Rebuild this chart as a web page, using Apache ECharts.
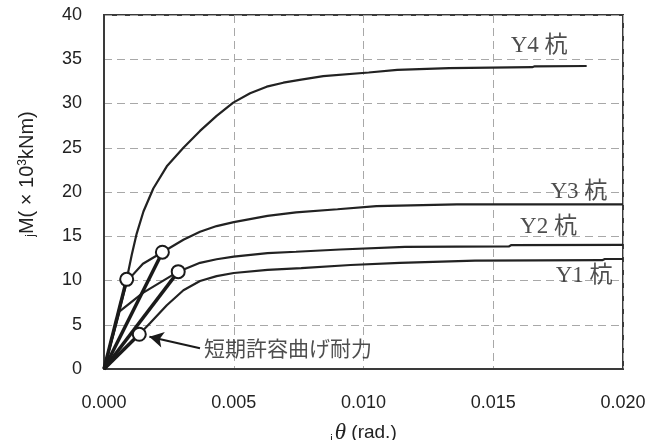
<!DOCTYPE html>
<html>
<head>
<meta charset="utf-8">
<script src="https://cdn.jsdelivr.net/npm/echarts@6/dist/echarts.min.js"></script>
<style>html,body{margin:0;padding:0;background:#fff}#c{width:661px;height:440px}</style>
</head>
<body>
<div id="c"></div>
<script>
// Curve data [theta, M]
var y1Data = [[0,0],[0.00136,3.92],[0.00177,5.16],[0.00242,7.2],[0.00306,8.9],[0.0037,9.95],[0.00434,10.5],[0.005,10.85],[0.0063,11.2],[0.0076,11.4],[0.0095,11.75],[0.0114,12.0],[0.0143,12.24],[0.0192,12.3],[0.0193,12.43],[0.020,12.43]];
var y2Data = [[0,0],[0.0006,6.5],[0.0015,8.6],[0.00286,11.0],[0.0037,12.0],[0.00434,12.4],[0.005,12.7],[0.0063,13.1],[0.0074,13.25],[0.0091,13.5],[0.0116,13.8],[0.0156,13.85],[0.0157,14.0],[0.020,14.02]];
var y3Data = [[0,0],[0.00088,9.9],[0.0015,11.9],[0.00225,13.2],[0.00306,14.6],[0.0037,15.5],[0.00434,16.15],[0.005,16.6],[0.0063,17.3],[0.0074,17.7],[0.009,18.05],[0.0105,18.4],[0.0136,18.6],[0.020,18.6]];
var y4Data = [[0,0],[0.000874,10.13],[0.00107,12.9],[0.00126,15.3],[0.00152,17.8],[0.0019,20.4],[0.00242,22.9],[0.00306,25.0],[0.0037,26.9],[0.00434,28.6],[0.00498,30.1],[0.00563,31.15],[0.00627,31.9],[0.00691,32.35],[0.0076,32.7],[0.00845,33.1],[0.0102,33.5],[0.0113,33.8],[0.0133,34.0],[0.0165,34.1],[0.0166,34.2],[0.0186,34.24]];
// Short-term allowable bending strength points
var shortX = [0.00136, 0.00286, 0.00225, 0.000874];
var shortY = [3.92, 11.0, 13.2, 10.13];
// Curve labels
var labelText = ['Y1 杭', 'Y2 杭', 'Y3 杭', 'Y4 杭'];
var labelX = [0.0185, 0.01713, 0.0183, 0.01677];
var labelY = [10.5, 16.05, 20.0, 36.5];
// Annotation
var noteText = '短期許容曲げ耐力';
var notePos = [0.00385, 2.34];
var arrowFrom = [0.0037, 2.34];
var arrowTo = [0.00175, 3.65];
// Axis ticks
var xTicks = [0, 0.005, 0.010, 0.015, 0.020];
var yTicks = [0, 5, 10, 15, 20, 25, 30, 35, 40];

var chart = echarts.init(document.getElementById('c'), null, {renderer: 'canvas'});
var lineColor = '#222';
var series = [];
[y1Data, y2Data, y3Data, y4Data].forEach(function (d) {
  series.push({type: 'line', data: d, showSymbol: false, symbol: 'none', smooth: false,
    lineStyle: {color: lineColor, width: 2.2}, z: 3, silent: true});
});
shortX.forEach(function (x, i) {
  series.push({type: 'line', data: [[0, 0], [x, shortY[i]]], showSymbol: false, symbol: 'none',
    lineStyle: {color: '#1a1a1a', width: 3.5}, z: 4, silent: true});
});
series.push({type: 'scatter', data: shortX.map(function (x, i) { return [x, shortY[i]]; }),
  symbol: 'circle', symbolSize: 13,
  itemStyle: {color: '#fff', borderColor: '#1a1a1a', borderWidth: 2, opacity: 1}, z: 6, silent: true});
series.push({type: 'scatter', data: labelX.map(function (x, i) { return {value: [x, labelY[i]], name: labelText[i]}; }),
  symbolSize: 0, z: 7, silent: true,
  label: {show: true, position: 'inside', formatter: '{b}', color: '#222',
    fontFamily: '"Liberation Serif", "Noto Sans CJK JP", serif', fontSize: 23}});
series.push({type: 'scatter', data: [{value: notePos, name: noteText}], symbolSize: 0, z: 7, silent: true,
  label: {show: true, position: 'right', distance: 0, formatter: '{b}', color: '#222',
    fontFamily: '"Noto Sans CJK JP", serif', fontSize: 21},
  markLine: {silent: true, symbol: ['none', 'arrow'], symbolSize: [12, 14],
    lineStyle: {color: '#1a1a1a', width: 2, type: 'solid'}, label: {show: false},
    data: [[{coord: arrowFrom}, {coord: arrowTo}]]}});

chart.setOption({
  animation: false,
  backgroundColor: '#fff',
  grid: {left: 104, right: 38, top: 15, bottom: 71, containLabel: false, outerBoundsMode: 'none',
    show: true, borderColor: '#3a3a3a', borderWidth: 2, backgroundColor: 'transparent'},
  xAxis: {
    type: 'value', min: 0, max: 0.02, interval: 0.005,
    axisLine: {show: true, lineStyle: {color: '#3a3a3a', width: 2}},
    axisTick: {show: false},
    axisLabel: {margin: 25, color: '#222', fontSize: 18, fontFamily: '"Liberation Sans", Arial, sans-serif',
      formatter: function (v) { return v.toFixed(3); }},
    splitLine: {show: true, lineStyle: {color: '#a8a8a8', width: 1, type: [8, 5]}},
    name: '{sub|j}{th|θ}{n| (rad.)}', nameLocation: 'middle', nameGap: 52,
    nameTextStyle: {color: '#222', rich: {
      sub: {fontSize: 11, fontFamily: '"Liberation Sans", sans-serif', verticalAlign: 'bottom', padding: [10, 2, 0, 0]},
      th: {fontSize: 23, fontStyle: 'italic', fontFamily: '"Liberation Serif", serif'},
      n: {fontSize: 19, fontFamily: '"Liberation Sans", sans-serif'}
    }}
  },
  yAxis: {
    type: 'value', min: 0, max: 40, interval: 5,
    axisLine: {show: true, lineStyle: {color: '#3a3a3a', width: 2}},
    axisTick: {show: false},
    axisLabel: {margin: 22, color: '#222', fontSize: 18, fontFamily: '"Liberation Sans", Arial, sans-serif'},
    splitLine: {show: true, lineStyle: {color: '#a8a8a8', width: 1, type: [8, 5]}},
    name: '{sub|j}{n|M( × 10}{sup|3}{n|kNm)}', nameLocation: 'middle', nameRotate: 90, nameGap: 67,
    nameTextStyle: {color: '#222', padding: [0, 0, 0, 36], rich: {
      sub: {fontSize: 12, fontFamily: '"Liberation Sans", sans-serif', verticalAlign: 'bottom', padding: [8, 0, 0, 0]},
      sup: {fontSize: 12, fontFamily: '"Liberation Sans", sans-serif', verticalAlign: 'top', padding: [0, 0, 8, 0]},
      n: {fontSize: 20, fontFamily: '"Liberation Sans", sans-serif'}
    }}
  },
  series: series
});
</script>
</body>
</html>
